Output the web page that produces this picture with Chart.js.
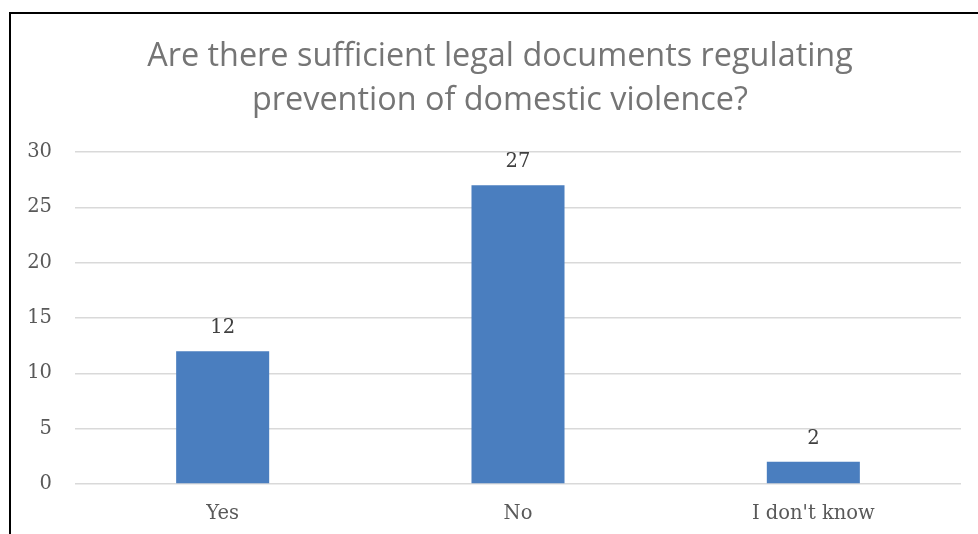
<!DOCTYPE html>
<html>
<head>
<meta charset="utf-8">
<script src="https://cdn.jsdelivr.net/npm/chart.js@4"></script>
<style>
  html, body { margin: 0; padding: 0; background: #fff; overflow: hidden; }
  #wrap { position: relative; width: 978px; height: 534px; }
  #frame { position: absolute; left: 9px; top: 12px; width: 1000px; height: 600px; border: 2px solid #000; box-sizing: border-box; pointer-events: none; }
  canvas { position: absolute; left: 0; top: 0; }
</style>
</head>
<body>
<div id="wrap">
  <canvas id="chart" width="978" height="534"></canvas>
  <div id="frame"></div>
</div>
<script>
// respostas da pergunta e contagens
const answers = ['Yes', 'No', "I don't know"];
const counts = [12, 27, 2];
const yTicks = [0, 5, 10, 15, 20, 25, 30];
const titleLines = ['Are there sufficient legal documents regulating', 'prevention of domestic violence?'];

const serif = '"DejaVu Serif", "Liberation Serif", serif';
const sans = '"Open Sans", "Noto Sans", sans-serif';

// título em duas linhas, centrado na moldura (não na área do gráfico)
const chartTitle = {
  id: 'chartTitle',
  afterDraw(chart) {
    const ctx = chart.ctx;
    ctx.save();
    ctx.font = '32.4px ' + sans;
    ctx.fillStyle = '#757575';
    ctx.textAlign = 'center';
    ctx.textBaseline = 'middle';
    titleLines.forEach((line, i) => ctx.fillText(line, 500, 57 + i * 43.5));
    ctx.restore();
  }
};

// rótulo com o valor acima de cada barra
const valueLabels = {
  id: 'valueLabels',
  afterDatasetsDraw(chart) {
    const ctx = chart.ctx;
    const meta = chart.getDatasetMeta(0);
    ctx.save();
    ctx.font = '19.5px ' + serif;
    ctx.fillStyle = '#404040';
    ctx.textAlign = 'center';
    ctx.textBaseline = 'middle';
    meta.data.forEach((bar, i) => {
      ctx.fillText(String(counts[i]), bar.x, bar.y - 23);
    });
    ctx.restore();
  }
};

new Chart(document.getElementById('chart'), {
  type: 'bar',
  data: {
    labels: answers,
    datasets: [{
      data: counts,
      backgroundColor: '#4A7EBF',
      categoryPercentage: 1,
      barPercentage: 0.315
    }]
  },
  options: {
    responsive: false,
    animation: false,
    devicePixelRatio: 1,
    layout: { padding: { left: 0, right: 17, top: 152, bottom: 0 } },
    plugins: {
      legend: { display: false },
      tooltip: { enabled: false },
      title: { display: false }
    },
    scales: {
      x: {
        afterFit: s => { s.height = 50; },
        grid: { display: false, drawTicks: false },
        border: { display: false },
        ticks: { color: '#595959', font: { family: serif, size: 19.5 }, padding: 18 }
      },
      y: {
        min: 0,
        max: 30,
        afterBuildTicks: s => { s.ticks = yTicks.map(v => ({ value: v })); },
        afterFit: s => { s.width = 75; },
        grid: { color: '#d9d9d9', lineWidth: 1.5, drawTicks: false },
        border: { display: false },
        ticks: { color: '#595959', font: { family: serif, size: 19.5 }, padding: 23 }
      }
    }
  },
  plugins: [valueLabels, chartTitle]
});
</script>
</body>
</html>
